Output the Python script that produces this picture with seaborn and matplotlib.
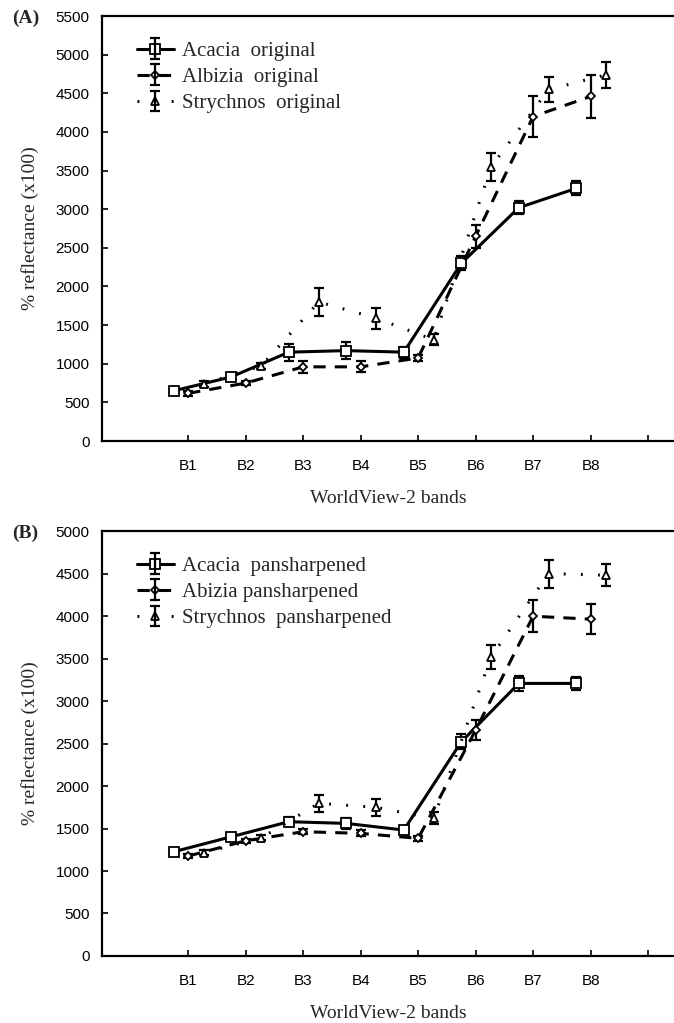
import numpy as np
import pandas as pd
import matplotlib
matplotlib.use('Agg')
import matplotlib.pyplot as plt
import seaborn as sns

bands = ['B1', 'B2', 'B3', 'B4', 'B5', 'B6', 'B7', 'B8']

# panel A - original image
acacia_a = [650, 830, 1150, 1170, 1150, 2300, 3020, 3270]
acacia_a_err = [30, 40, 110, 110, 70, 90, 80, 90]
albizia_a = [617, 750, 960, 960, 1075, 2650, 4200, 4460]
albizia_a_err = [30, 30, 80, 70, 40, 150, 260, 280]
strychnos_a = [740, 970, 1800, 1590, 1310, 3550, 4550, 4740]
strychnos_a_err = [40, 40, 180, 135, 70, 180, 165, 170]

# panel B - pansharpened image
acacia_b = [1227, 1403, 1580, 1560, 1482, 2520, 3207, 3207]
acacia_b_err = [20, 30, 50, 60, 40, 90, 90, 80]
albizia_b = [1176, 1356, 1462, 1443, 1384, 2658, 3998, 3963]
albizia_b_err = [20, 25, 30, 35, 30, 120, 190, 180]
strychnos_b = [1215, 1390, 1796, 1749, 1619, 3520, 4500, 4480]
strychnos_b_err = [30, 30, 100, 100, 70, 140, 165, 130]

labels_a = ['Acacia  original', 'Albizia  original', 'Strychnos  original']
labels_b = ['Acacia  pansharpened', 'Abizia pansharpened', 'Strychnos  pansharpened']

sns.set_theme(style='ticks')
plt.rcParams['font.family'] = ['Liberation Sans', 'DejaVu Sans']
serif = ['Liberation Serif', 'DejaVu Serif']

# series styles: x offset, dash pattern, marker, marker size
styles = [
    dict(off=-0.25, dashes=None, marker='s', ms=7),
    dict(off=0.0, dashes=(4, 3), marker='D', ms=4.5),
    dict(off=0.27, dashes=(0.6, 5), marker='^', ms=5.5),
]

fig = plt.figure(figsize=(6.74, 10.23), dpi=100)
ax_a = fig.add_axes([0.1513, 0.5689, 0.8487, 0.4154])
ax_b = fig.add_axes([0.1513, 0.0655, 0.8487, 0.4154])

x = np.arange(1, len(bands) + 1)


def draw_panel(ax, series, labels, ymax, tag):
    handles = []
    for (vals, errs), st, lab in zip(series, styles, labels):
        df = pd.DataFrame({'x': x + st['off'], 'y': vals})
        kw = dict(color='black', linewidth=2.2, marker=st['marker'], markersize=st['ms'],
                  markerfacecolor='white', markeredgecolor='black', markeredgewidth=1.3)
        if st['dashes'] is not None:
            kw['dashes'] = st['dashes']
        sns.lineplot(data=df, x='x', y='y', ax=ax, **kw)
        line = ax.lines[-1]
        line.set_zorder(3)
        eb = ax.errorbar(x + st['off'], vals, yerr=errs, fmt='none', ecolor='black',
                         elinewidth=1.6, capsize=3.5, capthick=1.6, zorder=2)
        handles.append((line, eb))

    ax.set_xlim(-0.5, 9.45)
    ax.set_ylim(0, ymax)
    ax.set_xticks(np.arange(1, 10))
    ax.set_xticklabels(bands + [''])
    ax.set_yticks(np.arange(0, ymax + 1, 500))
    ax.tick_params(direction='in', length=4, width=1.2, labelsize=11, colors='black')
    ax.tick_params(axis='x', pad=13)
    ax.tick_params(axis='y', pad=9)
    for s in ['left', 'bottom', 'top']:
        ax.spines[s].set_linewidth(1.6)
        ax.spines[s].set_color('black')
    ax.spines['right'].set_visible(False)

    ax.set_xlabel('WorldView-2 bands', fontsize=14, family=serif, labelpad=12)
    ax.set_ylabel('% reflectance (x100)', fontsize=14, family=serif, labelpad=12)
    ax.text(-0.157, 0.995, tag, transform=ax.transAxes, fontsize=14, fontweight='bold',
            family=serif, ha='left', va='center')

    ax.legend(handles, labels, loc='upper left', bbox_to_anchor=(0.035, 0.975),
              frameon=False, prop={'family': serif, 'size': 15}, handlelength=1.8,
              handletextpad=0.4, labelspacing=0.32, borderpad=0.2)


draw_panel(ax_a, [(acacia_a, acacia_a_err), (albizia_a, albizia_a_err),
                  (strychnos_a, strychnos_a_err)], labels_a, 5500, '(A)')
draw_panel(ax_b, [(acacia_b, acacia_b_err), (albizia_b, albizia_b_err),
                  (strychnos_b, strychnos_b_err)], labels_b, 5000, '(B)')

fig.savefig('out.png', dpi=100)
